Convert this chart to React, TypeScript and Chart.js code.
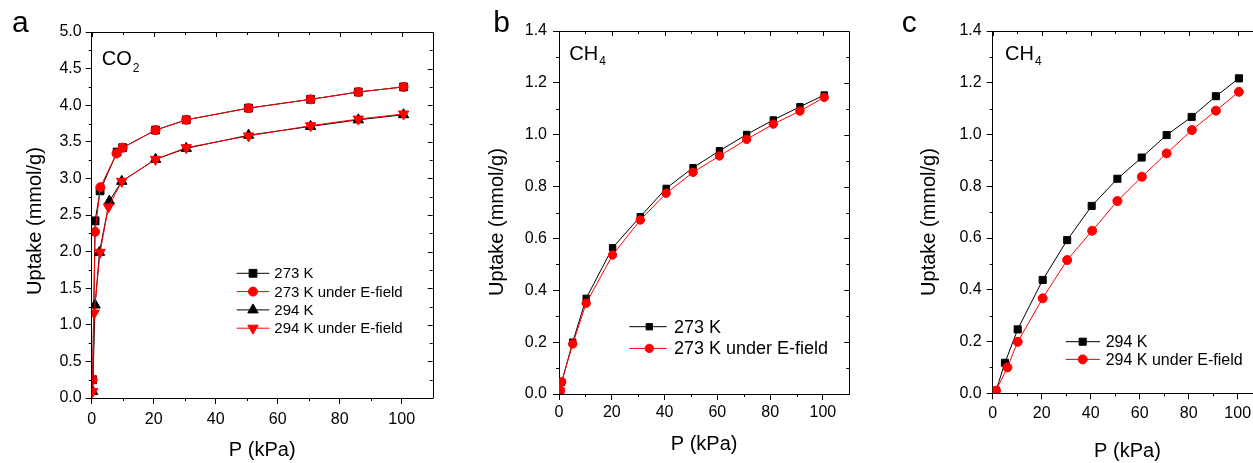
import React, { useEffect, useRef } from 'react';
import { Chart, registerables } from 'chart.js';
Chart.register(...registerables);

const FONT = '"Liberation Sans", Arial, Helvetica, sans-serif';

// ---------- Panel a : CO2 ----------
const aP273 = [0.3, 1.1, 2.7, 8.2, 10.0, 20.6, 30.5, 50.6, 70.6, 86.0, 100.6];
const aU273 = [0.25, 2.42, 2.83, 3.36, 3.42, 3.66, 3.80, 3.96, 4.08, 4.18, 4.25];
const aP273E = [0.3, 1.1, 2.8, 8.0, 10.0, 20.6, 30.5, 50.6, 70.6, 86.0, 100.6];
const aU273E = [0.25, 2.27, 2.88, 3.34, 3.42, 3.66, 3.80, 3.96, 4.08, 4.18, 4.25];
const aP294 = [0.3, 1.1, 2.5, 5.7, 9.7, 20.6, 30.5, 50.6, 70.6, 86.0, 100.6];
const aU294 = [0.09, 1.27, 1.99, 2.69, 2.96, 3.26, 3.41, 3.59, 3.71, 3.80, 3.87];
const aP294E = [0.3, 0.8, 2.7, 5.4, 9.7, 20.6, 30.5, 50.6, 70.6, 86.0, 100.6];
const aU294E = [0.09, 1.16, 1.99, 2.61, 2.96, 3.26, 3.42, 3.58, 3.72, 3.81, 3.88];

// ---------- Panel b : CH4 273 K ----------
const bP = [0.6, 1.0, 5.2, 10.3, 20.3, 30.8, 40.6, 50.8, 60.8, 71.1, 81.2, 91.3, 100.5];
const bU273 = [0.01, 0.045, 0.20, 0.369, 0.564, 0.684, 0.793, 0.873, 0.938, 1.001, 1.057, 1.108, 1.153];
const bU273E = [0.015, 0.047, 0.193, 0.350, 0.536, 0.671, 0.774, 0.855, 0.918, 0.982, 1.041, 1.091, 1.144];

// ---------- Panel c : CH4 294 K ----------
const cP294 = [1.35, 5.0, 10.2, 20.4, 30.4, 40.4, 50.9, 60.8, 71.0, 81.2, 91.1, 100.5];
const cU294 = [0.01, 0.118, 0.247, 0.438, 0.592, 0.724, 0.829, 0.911, 0.998, 1.068, 1.148, 1.217];
const cP294E = [1.35, 6.0, 10.2, 20.4, 30.4, 40.6, 50.9, 60.9, 71.0, 81.3, 91.1, 100.5];
const cU294E = [0.01, 0.10, 0.199, 0.367, 0.515, 0.628, 0.743, 0.837, 0.927, 1.017, 1.092, 1.165];

const xTickStep = 20;
const xAxisTitle = 'P (kPa)';
const yAxisTitle = 'Uptake (mmol/g)';

const toXY = (xs: number[], ys: number[]) => xs.map((x, i) => ({ x, y: ys[i] }));

function drawMarker(ctx: CanvasRenderingContext2D, style: string, rot: number, x: number, y: number, r: number, color: string) {
  ctx.save();
  ctx.fillStyle = color;
  ctx.strokeStyle = color;
  ctx.lineWidth = 1;
  ctx.beginPath();
  if (style === 'circle') {
    ctx.arc(x, y, r, 0, Math.PI * 2);
  } else if (style === 'rect') {
    const s = Math.SQRT1_2 * r;
    ctx.rect(x - s, y - s, 2 * s, 2 * s);
  } else {
    let rad = (rot * Math.PI) / 180;
    ctx.moveTo(x + Math.sin(rad) * r, y - Math.cos(rad) * r);
    rad += (2 * Math.PI) / 3;
    ctx.lineTo(x + Math.sin(rad) * r, y - Math.cos(rad) * r);
    rad += (2 * Math.PI) / 3;
    ctx.lineTo(x + Math.sin(rad) * r, y - Math.cos(rad) * r);
    ctx.closePath();
  }
  ctx.fill();
  ctx.stroke();
  ctx.restore();
}

const decorPlugin = {
  id: 'decor',
  afterDraw(chart: any, _args: any, o: any) {
    const ctx: CanvasRenderingContext2D = chart.ctx;
    const { left, right, top, bottom } = chart.chartArea;
    const xs = chart.scales.x;
    const ys = chart.scales.y;
    const al = (v: number) => Math.round(v) + 0.5;
    ctx.save();
    ctx.strokeStyle = '#000';
    ctx.lineWidth = 1;
    // frame
    ctx.beginPath();
    ctx.moveTo(al(left), al(top));
    ctx.lineTo(al(right), al(top));
    ctx.lineTo(al(right), al(bottom));
    ctx.stroke();
    // x ticks: minor outward at bottom, all mirrored inward at top
    ctx.beginPath();
    for (let v = 0; v < xs.max - 1e-6; v += o.xMinor) {
      const px = al(xs.getPixelForValue(v));
      const major = Math.abs(v / o.xMajor - Math.round(v / o.xMajor)) < 1e-6;
      if (!major) {
        ctx.moveTo(px, bottom);
        ctx.lineTo(px, bottom + 3);
      }
      ctx.moveTo(px, top);
      ctx.lineTo(px, top + (major ? 5 : 3));
    }
    for (let v = 0; v < ys.max - 1e-6; v += o.yMinor) {
      const py = al(ys.getPixelForValue(v));
      const major = Math.abs(v / o.yMajor - Math.round(v / o.yMajor)) < 1e-6;
      if (!major) {
        ctx.moveTo(left, py);
        ctx.lineTo(left - 3, py);
      }
      ctx.moveTo(right, py);
      ctx.lineTo(right - (major ? 5 : 3), py);
    }
    ctx.stroke();

    // y axis title (rotated)
    ctx.save();
    ctx.fillStyle = '#000';
    ctx.font = `20px ${FONT}`;
    ctx.textAlign = 'center';
    ctx.textBaseline = 'middle';
    ctx.translate(o.yTitle.x, o.yTitle.y);
    ctx.rotate(-Math.PI / 2);
    ctx.fillText(yAxisTitle, 0, 0);
    ctx.restore();

    // panel letter
    ctx.fillStyle = '#000';
    ctx.textBaseline = 'alphabetic';
    ctx.textAlign = 'left';
    ctx.font = `${o.letter.size}px ${FONT}`;
    ctx.fillText(o.letter.text, o.letter.x, o.letter.y);

    // gas label with subscript
    ctx.font = `${o.gas.size}px ${FONT}`;
    ctx.fillText(o.gas.text, o.gas.x, o.gas.y);
    const w = ctx.measureText(o.gas.text).width;
    ctx.font = `${o.gas.subSize}px ${FONT}`;
    ctx.fillText(o.gas.sub, o.gas.x + w + 1, o.gas.y + o.gas.subDy);

    // legend
    const lg = o.legend;
    lg.items.forEach((di: number, k: number) => {
      const ds = chart.data.datasets[di];
      const y = lg.y0 + k * lg.dy;
      ctx.beginPath();
      ctx.strokeStyle = ds.borderColor;
      ctx.lineWidth = 1;
      ctx.moveTo(lg.x1, y);
      ctx.lineTo(lg.x2, y);
      ctx.stroke();
      drawMarker(ctx, ds.pointStyle, ds.pointRotation || 0, lg.mx, y, ds.pointRadius, ds.pointBackgroundColor);
      ctx.fillStyle = '#000';
      ctx.textBaseline = 'middle';
      ctx.font = `${lg.font}px ${FONT}`;
      ctx.fillText(ds.label, lg.tx, y + 1);
    });
    ctx.restore();
  },
};

function series(label: string, xs: number[], ys: number[], color: string, style: string, r: number, rot: number, order: number) {
  return {
    label,
    data: toXY(xs, ys),
    showLine: true,
    borderColor: color,
    backgroundColor: color,
    borderWidth: 1,
    pointStyle: style,
    pointRotation: rot,
    pointRadius: r,
    pointBackgroundColor: color,
    pointBorderColor: color,
    pointBorderWidth: 1,
    tension: 0,
    order,
  };
}

interface PanelSpec {
  canvasLeft: number;
  width: number;
  area: { left: number; top: number; right: number; bottom: number };
  yMax: number;
  yStep: number;
  xTitleCenter: number;
  xPad: number;
  yPad: number;
  tickSize: number;
  datasets: any[];
  decor: any;
}

function buildConfig(p: PanelSpec): any {
  const H = 463;
  const yW = p.area.left - p.canvasLeft;
  const xH = H - p.area.bottom;
  const xtp = Math.max(0, H - p.xTitleCenter - 12);
  const tickFont = { family: FONT, size: p.tickSize };
  const titleFont = { family: FONT, size: 20 };
  return {
    type: 'scatter',
    data: { datasets: p.datasets },
    options: {
      responsive: false,
      animation: false,
      events: [],
      layout: {
        padding: { left: 0, top: p.area.top, right: p.canvasLeft + p.width - p.area.right, bottom: 0 },
      },
      plugins: { legend: { display: false }, tooltip: { enabled: false }, decor: p.decor },
      scales: {
        x: {
          type: 'linear',
          min: 0,
          max: 110,
          afterFit: (s: any) => { s.height = xH; },
          ticks: { stepSize: xTickStep, includeBounds: false, autoSkip: false, maxRotation: 0, font: tickFont, color: '#000', padding: p.xPad },
          grid: { display: true, drawOnChartArea: false, drawTicks: true, tickLength: 6, color: '#000', lineWidth: 1 },
          border: { display: true, color: '#000', width: 1 },
          title: { display: true, text: xAxisTitle, font: titleFont, color: '#000', padding: { top: 0, bottom: xtp } },
        },
        y: {
          type: 'linear',
          min: 0,
          max: p.yMax,
          afterFit: (s: any) => { s.width = yW; },
          ticks: { stepSize: p.yStep, autoSkip: false, font: tickFont, color: '#000', padding: p.yPad, callback: (v: any) => Number(v).toFixed(1) },
          grid: { display: true, drawOnChartArea: false, drawTicks: true, tickLength: 6, color: '#000', lineWidth: 1 },
          border: { display: true, color: '#000', width: 1 },
          title: { display: false },
        },
      },
    },
    plugins: [decorPlugin],
  };
}

const RED = '#ff0000';
const BLACK = '#000000';

const panelA: PanelSpec = {
  canvasLeft: 0,
  width: 460,
  area: { left: 91.7, top: 32, right: 432.7, bottom: 398 },
  yMax: 5,
  yStep: 0.5,
  xTitleCenter: 450,
  xPad: 6,
  yPad: 4,
  tickSize: 16,
  datasets: [
    series('273 K', aP273, aU273, BLACK, 'rect', 5.5, 0, 4),
    series('273 K under E-field', aP273E, aU273E, RED, 'circle', 4.5, 0, 3),
    series('294 K', aP294, aU294, BLACK, 'triangle', 6, 0, 2),
    series('294 K under E-field', aP294E, aU294E, RED, 'triangle', 6, 180, 1),
  ],
  decor: {
    xMajor: 20, xMinor: 10, yMajor: 0.5, yMinor: 0.25,
    yTitle: { x: 35, y: 221 },
    letter: { text: 'a', x: 12, y: 31.7, size: 30 },
    gas: { text: 'CO', sub: '2', x: 101.7, y: 65, size: 20, subSize: 12, subDy: 6.7 },
    legend: { items: [0, 1, 2, 3], x1: 236.7, x2: 269.3, mx: 253, tx: 274.3, y0: 273.3, dy: 18.3, font: 15 },
  },
};

const panelB: PanelSpec = {
  canvasLeft: 470,
  width: 400,
  area: { left: 559, top: 31, right: 849.3, bottom: 394 },
  yMax: 1.4,
  yStep: 0.2,
  xTitleCenter: 444,
  xPad: 3,
  yPad: 6,
  tickSize: 16,
  datasets: [
    series('273 K', bP, bU273, BLACK, 'rect', 4.5, 0, 2),
    series('273 K under E-field', bP, bU273E, RED, 'circle', 4.2, 0, 1),
  ],
  decor: {
    xMajor: 20, xMinor: 10, yMajor: 0.2, yMinor: 0.1,
    yTitle: { x: 497 - 470, y: 222 },
    letter: { text: 'b', x: 493.3 - 470, y: 31.7, size: 30 },
    gas: { text: 'CH', sub: '4', x: 569.3 - 470, y: 60, size: 20, subSize: 12, subDy: 5 },
    legend: { items: [0, 1], x1: 629.3 - 470, x2: 666.7 - 470, mx: 649.3 - 470, tx: 674 - 470, y0: 326.7, dy: 21.7, font: 18 },
  },
};

const panelC: PanelSpec = {
  canvasLeft: 890,
  width: 400,
  area: { left: 992.7, top: 31, right: 1262.2, bottom: 393.3 },
  yMax: 1.4,
  yStep: 0.2,
  xTitleCenter: 451.7,
  xPad: 5,
  yPad: 5,
  tickSize: 16,
  datasets: [
    series('294 K', cP294, cU294, BLACK, 'rect', 5, 0, 2),
    series('294 K under E-field', cP294E, cU294E, RED, 'circle', 4.5, 0, 1),
  ],
  decor: {
    xMajor: 20, xMinor: 10, yMajor: 0.2, yMinor: 0.1,
    yTitle: { x: 929 - 890, y: 222 },
    letter: { text: 'c', x: 901.7 - 890, y: 31.7, size: 30 },
    gas: { text: 'CH', sub: '4', x: 1005 - 890, y: 60, size: 20, subSize: 12, subDy: 5 },
    legend: { items: [0, 1], x1: 1065.7 - 890, x2: 1100 - 890, mx: 1082.7 - 890, tx: 1105.7 - 890, y0: 341.7, dy: 17.7, font: 16 },
  },
};

function Panel({ spec }: { spec: PanelSpec }) {
  const ref = useRef<HTMLCanvasElement>(null);
  useEffect(() => {
    const chart = new Chart(ref.current as HTMLCanvasElement, buildConfig(spec));
    return () => chart.destroy();
  }, [spec]);
  return (
    <canvas
      ref={ref}
      width={spec.width}
      height={463}
      style={{ position: 'absolute', left: spec.canvasLeft, top: 0, width: spec.width, height: 463 }}
    />
  );
}

export default function App() {
  return (
    <div style={{ position: 'fixed', left: 0, top: 0, width: 1253, height: 463, overflow: 'hidden', background: '#fff' }}>
      <Panel spec={panelA} />
      <Panel spec={panelB} />
      <Panel spec={panelC} />
    </div>
  );
}
